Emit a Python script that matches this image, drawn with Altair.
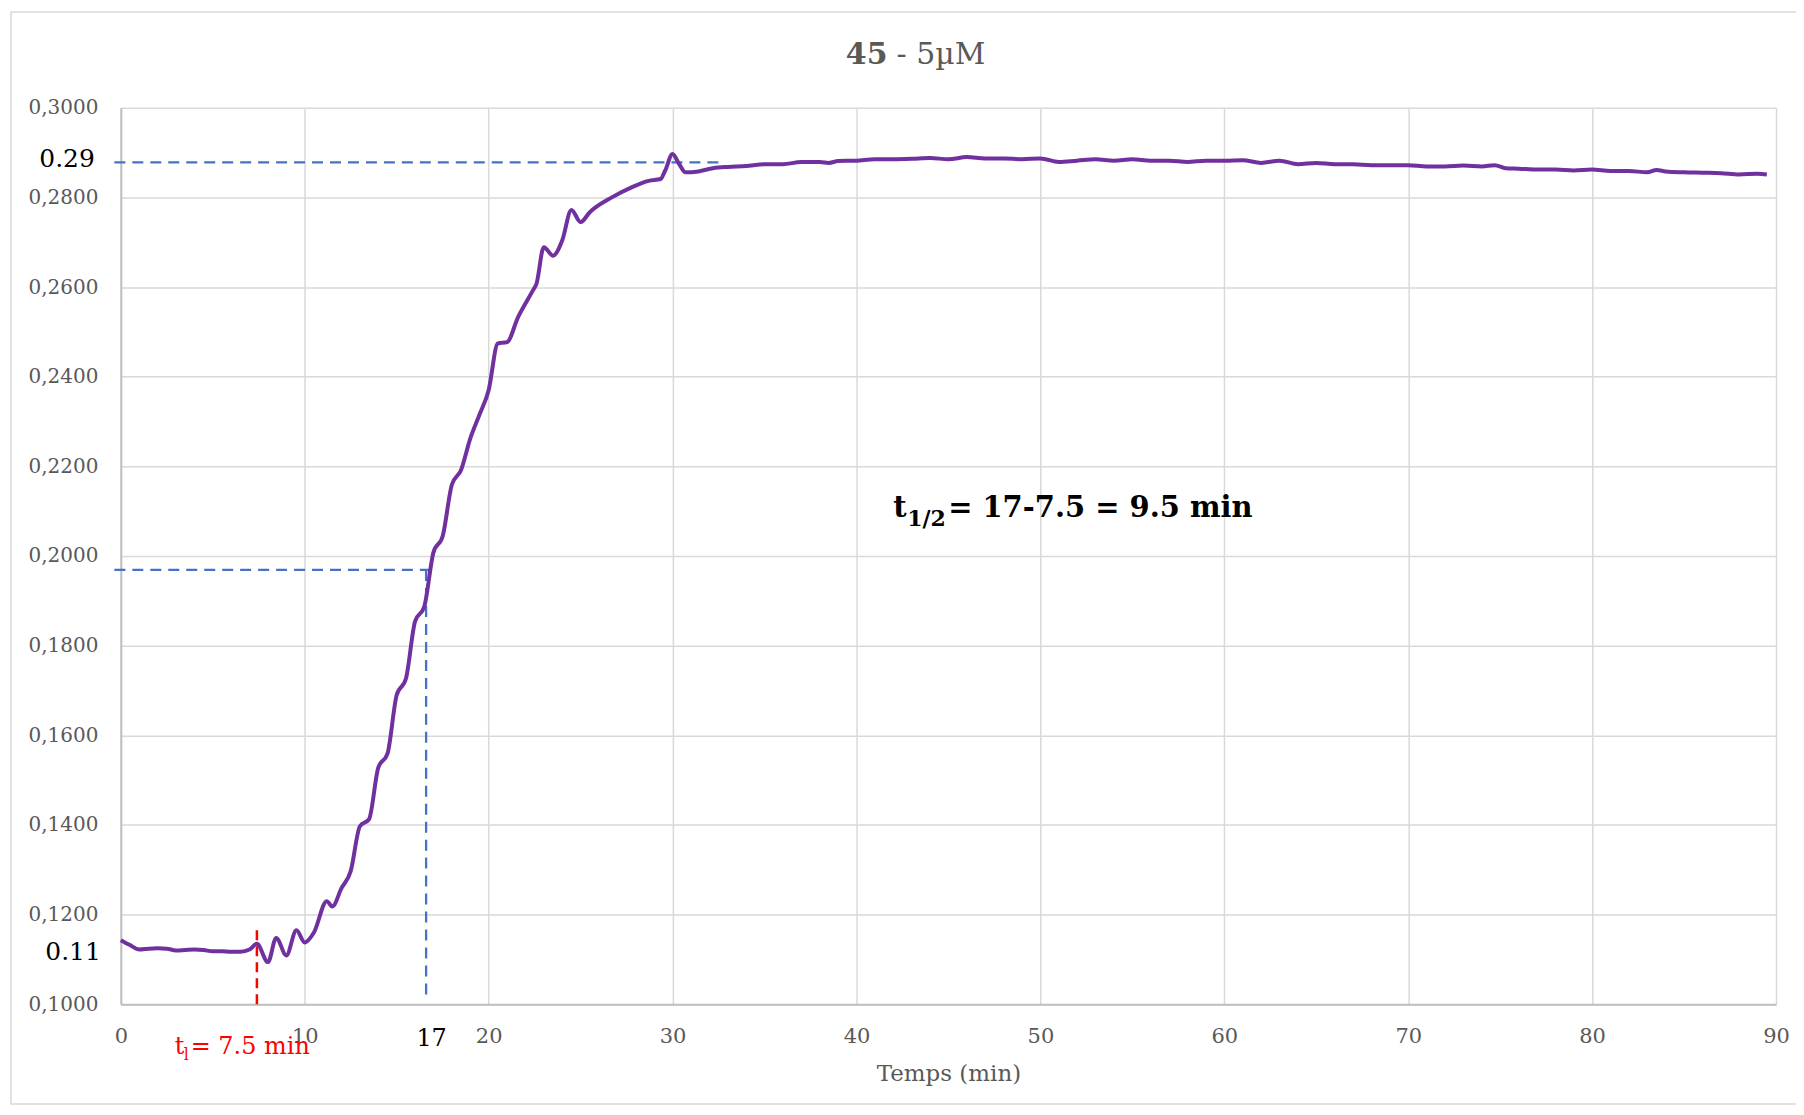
import altair as alt
import pandas as pd

# ---- data ----
time_min = [0, 0.5, 1, 1.5, 2, 2.5, 3, 3.5, 4, 4.5, 5, 5.5, 6, 6.5, 7, 7.4,
            8.0, 8.45, 9.0, 9.55, 10.0, 10.5, 11.2, 11.5, 12, 12.5, 13, 13.5,
            14, 14.5, 15, 15.5, 16, 16.5, 17, 17.5, 18, 18.5, 19, 19.5, 20,
            20.5, 21, 21.6, 22.4, 22.6, 23.0, 23.5, 24.0, 24.5, 25.0, 25.5,
            26.7, 27.8, 28.7, 29.35, 29.6, 30.0, 30.35, 30.7, 31.4, 32.2, 33,
            34, 35, 36, 37, 38, 38.5, 39, 40, 41, 42, 43, 44, 45, 46, 47, 48,
            49, 50, 51, 52, 53, 54, 55, 56, 57, 58, 59, 60, 61, 62, 63, 64,
            65, 66, 67, 68, 69, 70, 71, 72, 73, 74, 74.7, 75.3, 76, 77, 78,
            79, 80, 81, 82, 83, 83.5, 84, 85, 86, 87, 88, 89, 89.5]
absorbance = [0.1143, 0.1132, 0.1122, 0.1124, 0.1125, 0.1124, 0.1120, 0.1121,
              0.1122, 0.1121, 0.1118, 0.1118, 0.1117, 0.1117, 0.1122, 0.1135,
              0.1094, 0.1148, 0.1109, 0.1165, 0.1138, 0.1160, 0.1230, 0.1218,
              0.1259, 0.1297, 0.1397, 0.1413, 0.1528, 0.1559, 0.1690, 0.1726,
              0.1854, 0.1887, 0.2008, 0.2044, 0.2159, 0.2192, 0.2262, 0.2315,
              0.2370, 0.2474, 0.2477, 0.2533, 0.2592, 0.2607, 0.2689, 0.2670,
              0.2704, 0.2772, 0.2745, 0.2767, 0.2800, 0.2823, 0.2837, 0.2841,
              0.2860, 0.2897, 0.2875, 0.2856, 0.2858, 0.2865, 0.2868, 0.2870,
              0.2874, 0.2874, 0.2879, 0.2879, 0.2877, 0.2881, 0.2882, 0.2885,
              0.2885, 0.2886, 0.2888, 0.2885, 0.2890, 0.2887, 0.2887, 0.2885,
              0.2887, 0.2879, 0.2882, 0.2885, 0.2882, 0.2885, 0.2882, 0.2882,
              0.2879, 0.2882, 0.2882, 0.2883, 0.2877, 0.2882, 0.2874, 0.2877,
              0.2874, 0.2874, 0.2872, 0.2872, 0.2872, 0.2869, 0.2869, 0.2871,
              0.2869, 0.2872, 0.2865, 0.2864, 0.2862, 0.2862, 0.2860, 0.2862,
              0.2859, 0.2859, 0.2856, 0.2861, 0.2858, 0.2856, 0.2855, 0.2854,
              0.2851, 0.2853, 0.2851]

# guide lines (dashed)
guide_x = [-0.35, -0.35, 16.6]
guide_x2 = [32.7, 16.8, 16.6]
guide_y = [0.2878, 0.1969, 0.1022]
guide_y2 = [0.2878, 0.1969, 0.1969]
lag_x = [7.4]
lag_y = [0.1000]
lag_y2 = [0.1172]

y_ticks = [0.10, 0.12, 0.14, 0.16, 0.18, 0.20, 0.22, 0.24, 0.26, 0.28, 0.30]
x_ticks = [0, 10, 20, 30, 40, 50, 60, 70, 80, 90]

FONT = "DejaVu Serif"
GRAY = "#595959"

curve = pd.DataFrame({"t": time_min, "a": absorbance})
guides = pd.DataFrame({"x": guide_x, "x2": guide_x2, "y": guide_y, "y2": guide_y2})
lag = pd.DataFrame({"x": lag_x, "y": lag_y, "y2": lag_y2})

xscale = alt.Scale(domain=[0, 90], nice=False, zero=False)
yscale = alt.Scale(domain=[0.1, 0.3], nice=False, zero=False)

line = alt.Chart(curve).mark_line(
    color="#7030A0", strokeWidth=4, interpolate="monotone"
).encode(
    x=alt.X("t:Q", scale=xscale,
            axis=alt.Axis(values=x_ticks, title="Temps (min)", ticks=False,
                          labelPadding=21, titlePadding=16, format="d",
                          labelFlush=False)),
    y=alt.Y("a:Q", scale=yscale,
            axis=alt.Axis(values=y_ticks, title=None, ticks=False,
                          labelPadding=23, labelFlush=False,
                          labelExpr="replace(format(datum.value, '.4f'), '.', ',')")),
)

blue = alt.Chart(guides).mark_rule(
    color="#4472C4", strokeWidth=2.3, strokeDash=[11, 7]
).encode(x="x:Q", x2="x2:Q", y="y:Q", y2="y2:Q")

red = alt.Chart(lag).mark_rule(
    color="#FF0000", strokeWidth=2.5, strokeDash=[10, 6]
).encode(x="x:Q", y="y:Q", y2="y2:Q")

one = alt.Data(values=[{}])


def txt(text, x, y, size, color="black", weight="normal", align="left", dx=0, dy=0):
    return alt.Chart(one).mark_text(
        font=FONT, fontSize=size, color=color, fontWeight=weight,
        align=align, baseline="alphabetic", dx=dx, dy=dy
    ).encode(x=x, y=y, text=alt.value(text))


texts = [
    # title
    txt("45", alt.value(768), alt.value(-44), 30, GRAY, "bold", "right"),
    txt("- 5µM", alt.value(768), alt.value(-44), 30, GRAY, "normal", "left", dx=9),
    # half-time annotation
    txt("t", alt.datum(42.0), alt.datum(0.2087), 29, weight="bold"),
    txt("1/2", alt.datum(42.0), alt.datum(0.2087), 22, weight="bold", dx=14, dy=9),
    txt("= 17-7.5 = 9.5 min", alt.datum(42.0), alt.datum(0.2087), 29, weight="bold", dx=55),
    # lag time annotation
    txt("t", alt.datum(0), alt.datum(0.1), 24, "#FF0000", dx=54, dy=50),
    txt("l", alt.datum(0), alt.datum(0.1), 16, "#FF0000", dx=63, dy=56),
    txt("= 7.5 min", alt.datum(0), alt.datum(0.1), 24, "#FF0000", dx=70, dy=50),
    # axis markers
    txt("17", alt.datum(16.9), alt.datum(0.1), 24, align="center", dy=42),
    txt("0.29", alt.datum(0), alt.datum(0.2878), 25, align="right", dx=-26, dy=5),
    txt("0.11", alt.datum(0), alt.datum(0.11), 25, align="right", dx=-20, dy=1),
]

frame = alt.Chart(one).mark_rect(
    fill="white", fillOpacity=0, stroke="#d9d9d9", strokeWidth=1.5
).encode(x=alt.value(-110), x2=alt.value(1700), y=alt.value(-96), y2=alt.value(998))

chart = alt.layer(frame, blue, red, line, *texts).properties(
    width=1658, height=898,
    autosize=alt.AutoSizeParams(type="none"),
    padding={"left": 113, "top": 99, "right": 20, "bottom": 100},
).configure_view(stroke=None).configure_axis(
    labelFont=FONT, titleFont=FONT, labelColor=GRAY, titleColor=GRAY,
    labelFontSize=21, titleFontSize=23, titleFontWeight="normal",
    gridColor="#d9d9d9", gridWidth=1.5, domainColor="#bfbfbf", domainWidth=2,
).configure_axisY(labelFontSize=20)

chart.save("out.html", embed_options={"renderer": "svg", "actions": False})
